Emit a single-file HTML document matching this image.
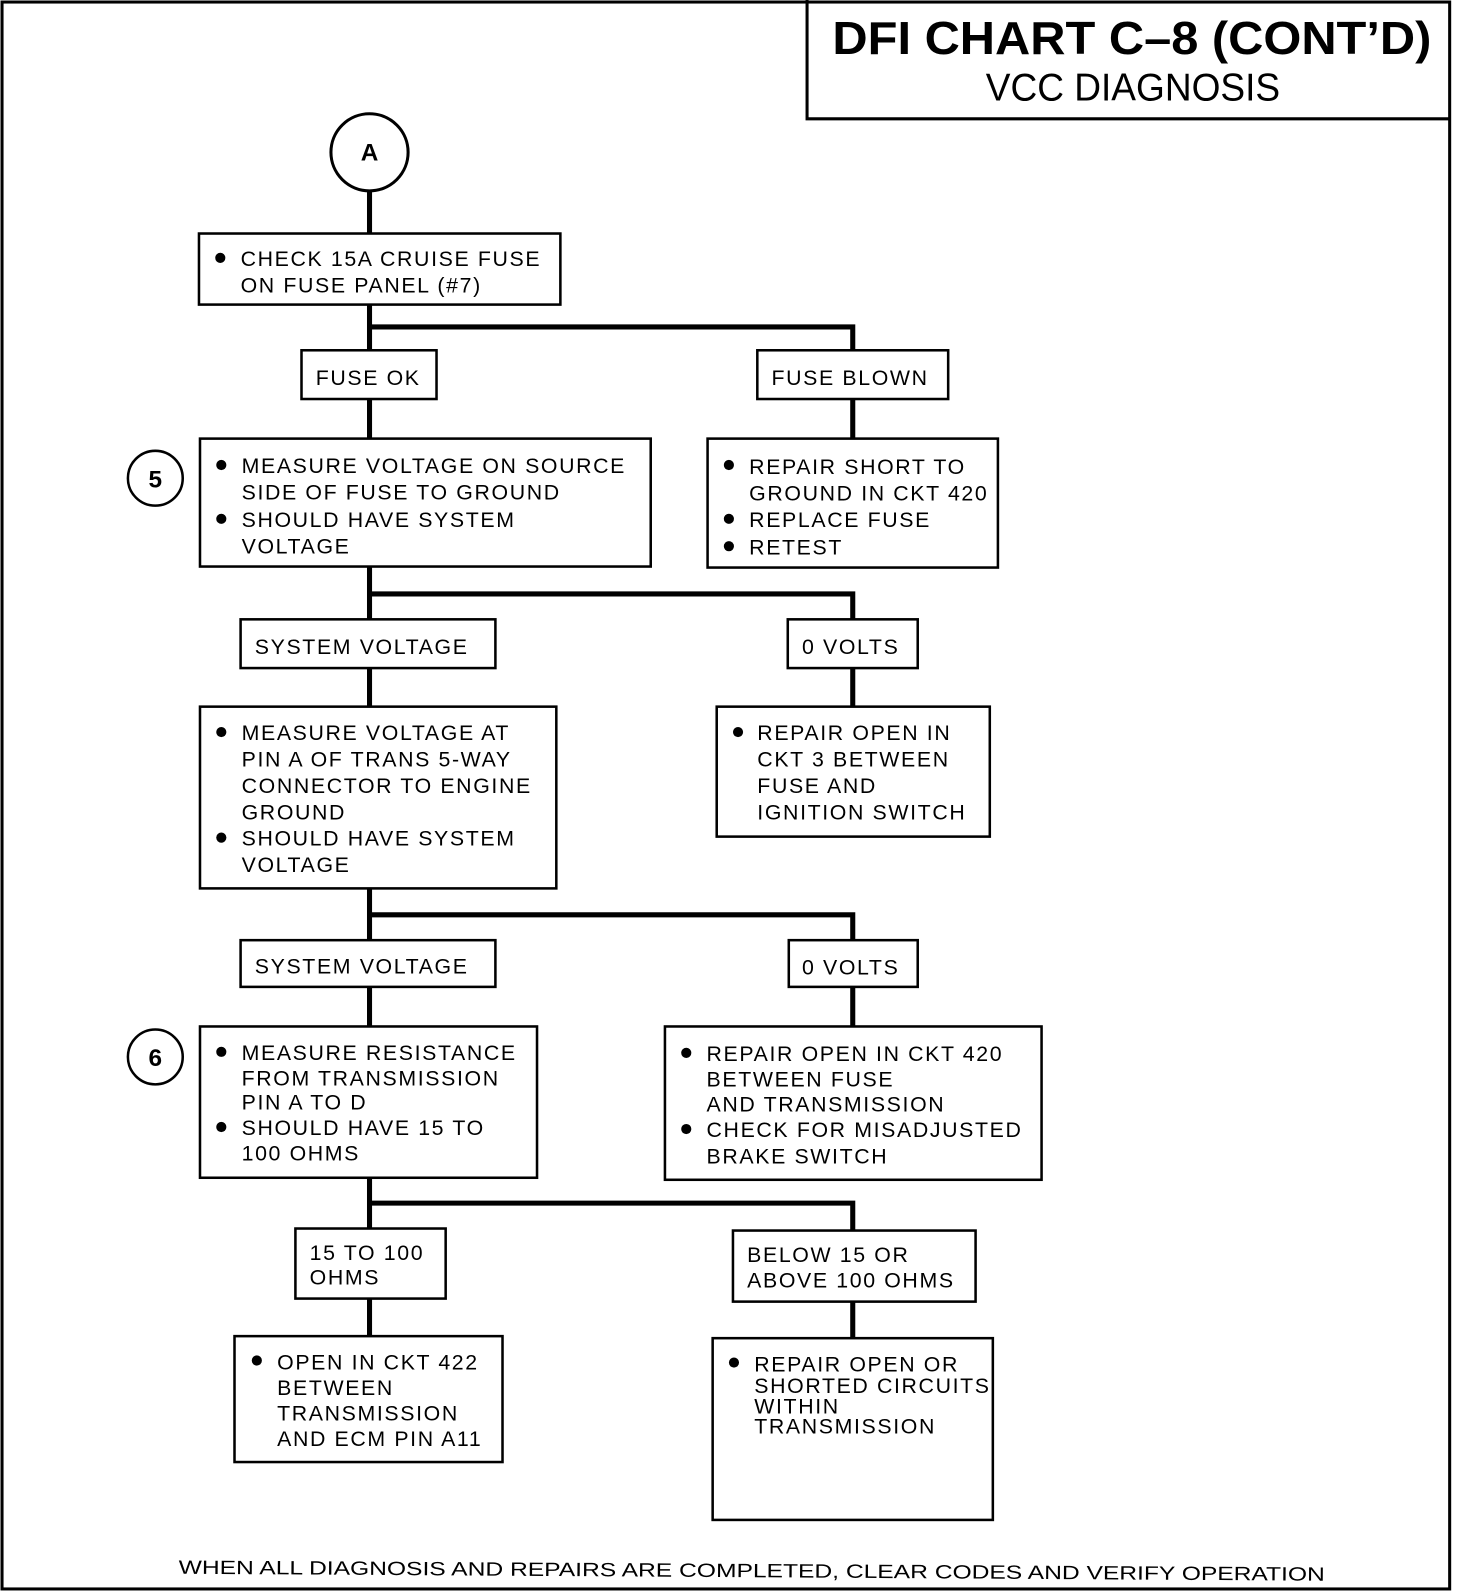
<!DOCTYPE html>
<html><head><meta charset="utf-8"><style>
html,body{margin:0;padding:0;background:#fff}
svg{display:block}
text{font-family:"Liberation Sans",sans-serif;fill:#000}
.t{font-size:21px;letter-spacing:1.6px}
</style></head><body>
<svg width="1472" height="1592" viewBox="0 0 1450 1568" preserveAspectRatio="none" xmlns="http://www.w3.org/2000/svg">
<g fill="none" stroke="#000" stroke-width="3">
<rect x="2" y="2" width="1426" height="1563"/>
<polyline points="795,0 795,117 1428,117"/>
<circle cx="364" cy="150" r="38"/>
<circle cx="153" cy="471" r="27" stroke-width="2.5"/>
<circle cx="153" cy="1041" r="27" stroke-width="2.5"/>
<g stroke-width="2.5">
<rect x="196" y="230" width="356" height="70"/>
<rect x="297" y="345" width="133" height="48"/>
<rect x="746" y="345" width="188" height="48"/>
<rect x="197" y="432" width="444" height="126"/>
<rect x="697" y="432" width="286" height="127"/>
<rect x="237" y="610" width="251" height="48"/>
<rect x="776" y="610" width="128" height="48"/>
<rect x="197" y="696" width="351" height="179"/>
<rect x="706" y="696" width="269" height="128"/>
<rect x="237" y="926" width="251" height="46"/>
<rect x="777" y="926" width="127" height="46"/>
<rect x="197" y="1011" width="332" height="149"/>
<rect x="655" y="1011" width="371" height="151"/>
<rect x="291" y="1210" width="148" height="69"/>
<rect x="722" y="1212" width="239" height="70"/>
<rect x="231" y="1316" width="264" height="124"/>
<rect x="702" y="1318" width="276" height="179"/>
</g>
<g stroke-width="5">
<line x1="364" y1="188" x2="364" y2="230"/>
<polyline points="364,300 364,345"/><polyline points="364,322 840,322 840,345"/>
<line x1="364" y1="393" x2="364" y2="432"/><line x1="840" y1="393" x2="840" y2="432"/>
<polyline points="364,558 364,610"/><polyline points="364,585 840,585 840,610"/>
<line x1="364" y1="658" x2="364" y2="696"/><line x1="840" y1="658" x2="840" y2="696"/>
<polyline points="364,875 364,926"/><polyline points="364,901 840,901 840,926"/>
<line x1="364" y1="972" x2="364" y2="1011"/><line x1="840" y1="972" x2="840" y2="1011"/>
<polyline points="364,1160 364,1210"/><polyline points="364,1185 840,1185 840,1212"/>
<line x1="364" y1="1279" x2="364" y2="1316"/><line x1="840" y1="1282" x2="840" y2="1318"/>
</g>
</g>
<text x="1115" y="53" text-anchor="middle" font-size="46" font-weight="bold" textLength="590" lengthAdjust="spacingAndGlyphs">DFI CHART C–8 (CONT’D)</text>
<text x="1116" y="99" text-anchor="middle" font-size="38" textLength="290" lengthAdjust="spacingAndGlyphs">VCC DIAGNOSIS</text>
<text x="364" y="158" text-anchor="middle" font-size="24" font-weight="bold">A</text>
<text x="153" y="480" text-anchor="middle" font-size="24" font-weight="bold">5</text>
<text x="153" y="1050" text-anchor="middle" font-size="24" font-weight="bold">6</text>
<g fill="#000">
<circle cx="217" cy="254" r="5"/>
<circle cx="218" cy="458" r="5"/><circle cx="218" cy="511" r="5"/>
<circle cx="718" cy="458" r="5"/><circle cx="718" cy="511" r="5"/><circle cx="718" cy="538" r="5"/>
<circle cx="218" cy="721" r="5"/><circle cx="218" cy="825" r="5"/>
<circle cx="727" cy="721" r="5"/>
<circle cx="218" cy="1036" r="5"/><circle cx="218" cy="1110" r="5"/>
<circle cx="676" cy="1037" r="5"/><circle cx="676" cy="1112" r="5"/>
<circle cx="253" cy="1340" r="5"/>
<circle cx="723" cy="1342" r="5"/>
</g>
<g class="t">
<text x="237" y="262">CHECK 15A CRUISE FUSE</text>
<text x="237" y="288">ON FUSE PANEL (#7)</text>
<text x="311" y="379">FUSE OK</text>
<text x="760" y="379">FUSE BLOWN</text>
<text x="238" y="466">MEASURE VOLTAGE ON SOURCE</text>
<text x="238" y="492">SIDE OF FUSE TO GROUND</text>
<text x="238" y="519">SHOULD HAVE SYSTEM</text>
<text x="238" y="545">VOLTAGE</text>
<text x="738" y="467">REPAIR SHORT TO</text>
<text x="738" y="493">GROUND IN CKT 420</text>
<text x="738" y="519">REPLACE FUSE</text>
<text x="738" y="546">RETEST</text>
<text x="251" y="644">SYSTEM VOLTAGE</text>
<text x="790" y="644">0 VOLTS</text>
<text x="238" y="729">MEASURE VOLTAGE AT</text>
<text x="238" y="755">PIN A OF TRANS 5-WAY</text>
<text x="238" y="781">CONNECTOR TO ENGINE</text>
<text x="238" y="807">GROUND</text>
<text x="238" y="833">SHOULD HAVE SYSTEM</text>
<text x="238" y="859">VOLTAGE</text>
<text x="746" y="729">REPAIR OPEN IN</text>
<text x="746" y="755">CKT 3 BETWEEN</text>
<text x="746" y="781">FUSE AND</text>
<text x="746" y="807">IGNITION SWITCH</text>
<text x="251" y="959">SYSTEM VOLTAGE</text>
<text x="790" y="960">0 VOLTS</text>
<text x="238" y="1044">MEASURE RESISTANCE</text>
<text x="238" y="1069">FROM TRANSMISSION</text>
<text x="238" y="1093">PIN A TO D</text>
<text x="238" y="1118">SHOULD HAVE 15 TO</text>
<text x="238" y="1143">100 OHMS</text>
<text x="696" y="1045">REPAIR OPEN IN CKT 420</text>
<text x="696" y="1070">BETWEEN FUSE</text>
<text x="696" y="1095">AND TRANSMISSION</text>
<text x="696" y="1120">CHECK FOR MISADJUSTED</text>
<text x="696" y="1146">BRAKE SWITCH</text>
<text x="305" y="1241">15 TO 100</text>
<text x="305" y="1265">OHMS</text>
<text x="736" y="1243">BELOW 15 OR</text>
<text x="736" y="1268">ABOVE 100 OHMS</text>
<text x="273" y="1349">OPEN IN CKT 422</text>
<text x="273" y="1374">BETWEEN</text>
<text x="273" y="1399">TRANSMISSION</text>
<text x="273" y="1424">AND ECM PIN A11</text>
<text x="743" y="1351">REPAIR OPEN OR</text>
<text x="743" y="1372">SHORTED CIRCUITS</text>
<text x="743" y="1392">WITHIN</text>
<text x="743" y="1412">TRANSMISSION</text>
</g>
<text x="176" y="1550" font-size="19" textLength="1129" lengthAdjust="spacingAndGlyphs" transform="rotate(0.35 176 1550)">WHEN ALL DIAGNOSIS AND REPAIRS ARE COMPLETED, CLEAR CODES AND VERIFY OPERATION</text>
</svg>
</body></html>
